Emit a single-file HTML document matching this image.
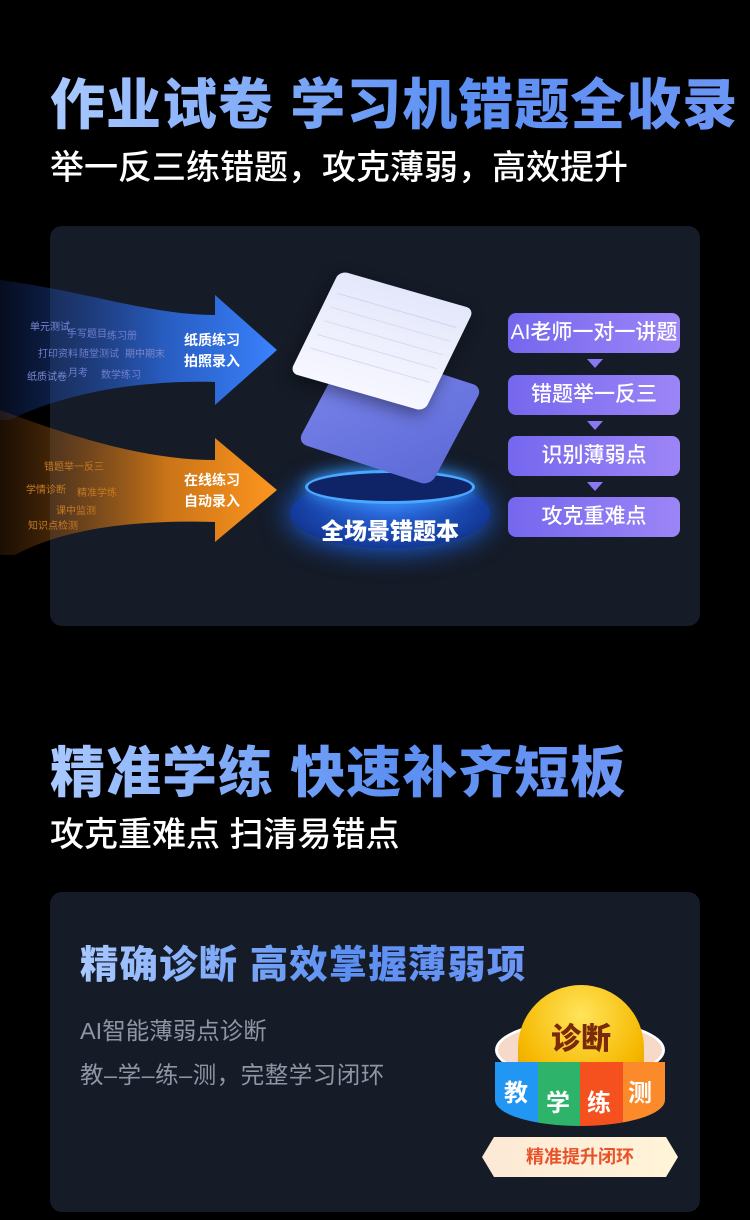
<!DOCTYPE html>
<html><head><meta charset="utf-8"><style>
*{margin:0;padding:0;box-sizing:border-box}
body{width:750px;height:1220px;background:#000;position:relative;overflow:hidden;font-family:"Liberation Sans","Noto Sans CJK SC",sans-serif}
.abs{position:absolute}
.t1{font-size:55px;font-weight:900;background:linear-gradient(90deg,#a9c9ff,#5b8ff2 60%,#6d96f5);-webkit-background-clip:text;background-clip:text;color:transparent;white-space:nowrap;letter-spacing:1px}
.t2{color:#fff;font-size:34px;font-weight:500;white-space:nowrap}
.step{position:absolute;left:508px;width:172px;height:40px;border-radius:8px;background:linear-gradient(90deg,#7567ee,#9c85f6);color:#fff;font-size:21px;font-weight:500;text-align:center;line-height:40px}
.tri{position:absolute;left:587px;width:0;height:0;border-left:8px solid transparent;border-right:8px solid transparent;border-top:9px solid #8a78f2}
.wt{position:absolute;font-size:10px;white-space:nowrap}
</style></head><body>
<div class="abs t1" style="left:50px;top:60px">作业试卷 学习机错题全收录</div>
<div class="abs t2" style="left:50px;top:140px">举一反三练错题，攻克薄弱，高效提升</div>

<div class="abs" style="left:50px;top:226px;width:650px;height:400px;background:#151b27;border-radius:12px;overflow:hidden"></div>
<svg class="abs" style="left:0;top:270px" width="300" height="300">
<defs>
<linearGradient id="gb" x1="0" x2="1"><stop offset="0" stop-color="#1b3f9a" stop-opacity="0.2"/><stop offset="0.6" stop-color="#2d6ee8" stop-opacity="0.8"/><stop offset="1" stop-color="#3a82ff"/></linearGradient>
<linearGradient id="go" x1="0" x2="1"><stop offset="0" stop-color="#8a4a10" stop-opacity="0.2"/><stop offset="0.6" stop-color="#e98415" stop-opacity="0.85"/><stop offset="1" stop-color="#ff961f"/></linearGradient>
</defs>
<path d="M0,10 C80,20 150,45 215,45 L215,25 L277,80 L215,135 L215,112 C150,110 70,120 10,150 L0,150 Z" fill="url(#gb)"/>
<path d="M0,140 C80,170 150,190 215,190 L215,168 L277,220 L215,272 L215,252 C150,250 70,255 15,285 L0,285 Z" fill="url(#go)"/>
</svg>
<div class="wt" style="left:30px;top:318px;color:#7a8ad8">单元测试</div>
<div class="wt" style="left:67px;top:325px;color:#6f7fcf">手写题目</div>
<div class="wt" style="left:107px;top:327px;color:#6f7fcf">练习册</div>
<div class="wt" style="left:38px;top:345px;color:#6f7fcf">打印资料</div>
<div class="wt" style="left:79px;top:345px;color:#6f7fcf">随堂测试</div>
<div class="wt" style="left:125px;top:345px;color:#7f86c8">期中期末</div>
<div class="wt" style="left:27px;top:368px;color:#7a8ad8">纸质试卷</div>
<div class="wt" style="left:68px;top:364px;color:#6f7fcf">月考</div>
<div class="wt" style="left:101px;top:366px;color:#6f7fcf">数学练习</div>
<div class="wt" style="left:44px;top:458px;color:#c77a22">错题举一反三</div>
<div class="wt" style="left:26px;top:481px;color:#c77a22">学情诊断</div>
<div class="wt" style="left:77px;top:484px;color:#c77a22">精准学练</div>
<div class="wt" style="left:56px;top:502px;color:#c77a22">课中监测</div>
<div class="wt" style="left:28px;top:517px;color:#c77a22">知识点检测</div>
<div class="abs" style="left:184px;top:330px;color:#fff;font-size:14px;font-weight:700;line-height:21px">纸质练习<br>拍照录入</div>
<div class="abs" style="left:184px;top:470px;color:#fff;font-size:14px;font-weight:700;line-height:21px">在线练习<br>自动录入</div>

<div class="abs" style="left:290px;top:478px;width:200px;height:70px;border-radius:50%;background:radial-gradient(ellipse at 50% 40%,#2f6fe8,#133a9a 70%,#0c1f55);box-shadow:0 0 30px #1d6cff"></div>
<div class="abs" style="left:305px;top:470px;width:170px;height:34px;border-radius:50%;background:#0f2466;border:3px solid #4aa8ff;box-shadow:0 0 16px #3aa0ff"></div>
<div class="abs" style="left:320px;top:360px;width:140px;height:110px;border-radius:10px;background:linear-gradient(135deg,#7b84ea,#5d6bd8);transform:rotate(18deg) skewX(-10deg)"></div>
<div class="abs" style="left:312px;top:285px;width:140px;height:112px;border-radius:8px;background:linear-gradient(180deg,#e4e7fb,#f6f7ff);transform:rotate(16deg) skewX(-10deg);box-shadow:0 6px 16px rgba(0,0,0,.4)">
<div style="margin:22px 8px 0;height:1px;background:#d0d4ee"></div>
<div style="margin:14px 8px 0;height:1px;background:#d8dbf0"></div>
<div style="margin:14px 8px 0;height:1px;background:#d8dbf0"></div>
<div style="margin:14px 8px 0;height:1px;background:#d8dbf0"></div>
<div style="margin:14px 8px 0;height:1px;background:#d8dbf0"></div>
</div>
<div class="abs" style="left:290px;top:512px;width:200px;color:#fff;font-size:23px;font-weight:900;text-align:center">全场景错题本</div>

<div class="step" style="top:313px">AI老师一对一讲题</div>
<div class="tri" style="top:359px"></div>
<div class="step" style="top:375px">错题举一反三</div>
<div class="tri" style="top:421px"></div>
<div class="step" style="top:436px">识别薄弱点</div>
<div class="tri" style="top:482px"></div>
<div class="step" style="top:497px">攻克重难点</div>

<div class="abs t1" style="left:50px;top:728px">精准学练 快速补齐短板</div>
<div class="abs t2" style="left:50px;top:807px">攻克重难点 扫清易错点</div>

<div class="abs" style="left:50px;top:892px;width:650px;height:320px;background:#151b27;border-radius:12px"></div>
<div class="abs t1" style="left:80px;top:934px;font-size:38.5px">精确诊断 高效掌握薄弱项</div>
<div class="abs" style="left:80px;top:1012px;color:#8e95a5;font-size:23.5px">AI智能薄弱点诊断</div>
<div class="abs" style="left:80px;top:1056px;color:#8e95a5;font-size:23.5px;letter-spacing:0.5px">教–学–练–测，完整学习闭环</div>

<div class="abs" style="left:495px;top:1020px;width:170px;height:60px;border-radius:50%;background:#f6d9c8;border:3px solid #fff"></div>
<div class="abs" style="left:518px;top:985px;width:126px;height:100px;border-radius:63px 63px 20px 20px;background:radial-gradient(circle at 50% 30%,#ffe45a,#f6b800 70%,#e39a00)"></div>
<div class="abs" style="left:518px;top:1014px;width:126px;text-align:center;color:#7a2a0a;font-size:30px;font-weight:900">诊断</div>
<div class="abs" style="left:495px;top:1062px;width:170px;height:64px;overflow:hidden;border-radius:0 0 85px 85px / 0 0 26px 26px;display:flex">
<div style="flex:1;background:#2196f3"></div><div style="flex:1;background:#2db36a"></div><div style="flex:1;background:#f4511e"></div><div style="flex:1;background:#fb8a2a"></div>
</div>
<div class="abs" style="left:504px;top:1073px;color:#fff;font-size:24px;font-weight:700">教</div>
<div class="abs" style="left:546px;top:1083px;color:#fff;font-size:24px;font-weight:700">学</div>
<div class="abs" style="left:587px;top:1083px;color:#fff;font-size:24px;font-weight:700">练</div>
<div class="abs" style="left:628px;top:1073px;color:#fff;font-size:24px;font-weight:700">测</div>
<div class="abs" style="left:482px;top:1137px;width:196px;height:40px;background:linear-gradient(90deg,#fde9d6,#fff4d8);clip-path:polygon(12px 0,184px 0,196px 20px,184px 40px,12px 40px,0 20px);color:#e8522a;font-size:18px;font-weight:700;text-align:center;line-height:40px">精准提升闭环</div>
</body></html>
